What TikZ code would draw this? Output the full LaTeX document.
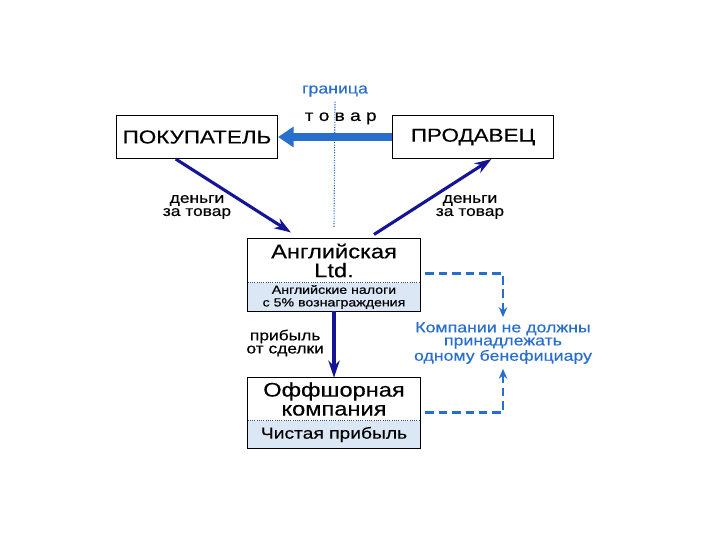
\documentclass[tikz,border=0pt]{standalone}
\usepackage{fontspec}
\setmainfont[FakeStretch=1.2, FakeBold=0.4]{Liberation Sans}
\usepackage{xcolor}
\usetikzlibrary{positioning, arrows.meta, calc}

\definecolor{navyarrow}{RGB}{20,20,150}
\definecolor{borderblue}{RGB}{40,110,205}
\definecolor{taxfill}{RGB}{220,231,246}

\begin{document}
\begin{tikzpicture}[x=0.025cm, y=-0.025cm, semithick,
    party/.style={draw, minimum width=4.03cm, minimum height=1.08cm, font=\fontsize{13.3}{14}\selectfont},
    company/.style={minimum width=4.3cm, align=center, inner sep=0pt, font=\fontsize{14}{13.5}\selectfont},
    taxbox/.style={fill=taxfill, minimum width=4.3cm, align=center, inner sep=0pt, font=\fontsize{8.4}{9}\selectfont},
    money/.style={draw=navyarrow, line width=2.2pt, -{Stealth[length=12pt, width=8pt]}},
    lbl/.style={align=center, font=\fontsize{10.3}{9.3}\selectfont},
    bluetext/.style={align=center, text=borderblue, font=\fontsize{10.5}{9.3}\selectfont},
    ownership/.style={draw=borderblue, line width=2pt, dash pattern=on 6pt off 3.5pt, -{Stealth[length=7pt, width=6pt]}}]

  \useasboundingbox (0,0) rectangle (720,540);

  \node[party] (buyer) at (197,137) {ПОКУПАТЕЛЬ};
  \node[party] (seller) at (473,137) {ПРОДАВЕЦ};

  % border line
  \node[bluetext] (borderlbl) at (335,91) {граница};
  \coordinate (borderbot) at (334,228);
  \draw[borderblue, densely dotted, thick] (borderlbl.south) -- (borderbot);

  \draw[draw=borderblue, line width=5.5pt, -{Triangle[length=11pt, width=14pt]}]
    (seller.west) -- node[pos=0.45, above=3pt, lbl, font=\fontsize{11.3}{10}\selectfont] {т о в а р} (buyer.east);

  % companies
  \node[company, minimum height=1.08cm] (eng) at (334,260.5) {Английская\\Ltd.};
  \node[taxbox, minimum height=0.7cm, below=0pt of eng] (engtax) {Английские налоги\\с 5\% вознаграждения};
  \draw (eng.north west) rectangle (engtax.south east);
  \draw[borderblue!70!black, densely dotted] (eng.south west) -- (eng.south east);

  \node[company, minimum height=1.05cm] (offshore) at (334,399) {Оффшорная\\компания};
  \node[taxbox, minimum height=0.68cm, below=0pt of offshore, font=\fontsize{11.4}{11}\selectfont] (offtax) {Чистая прибыль};
  \draw (offshore.north west) rectangle (offtax.south east);
  \draw[borderblue!70!black, densely dotted] (offshore.south west) -- (offshore.south east);

  % money flows
  \draw[money] (buyer.-134) -- ($(eng.north)+(-43,-6)$);
  \draw[money] ($(eng.north)+(40,-4)$) -- (seller.-50);
  \node[lbl] (paybuyer) at (197,207) {деньги\\за товар};
  \node[lbl] (payseller) at (470,207) {деньги\\за товар};

  \draw[money] (engtax.south) -- (offshore.north);
  \node[lbl, left] (profit) at (329,343) {прибыль\\от сделки};

  % ownership note
  \node[bluetext] (note) at (503,343) {Компании не должны\\принадлежать\\одному бенефициару};
  \draw[ownership] ($(eng.south east)+(5,-9)$) -| (note.north);
  \draw[ownership] ($(offshore.south east)+(5,-8)$) -| (note.south);
\end{tikzpicture}
\end{document}
